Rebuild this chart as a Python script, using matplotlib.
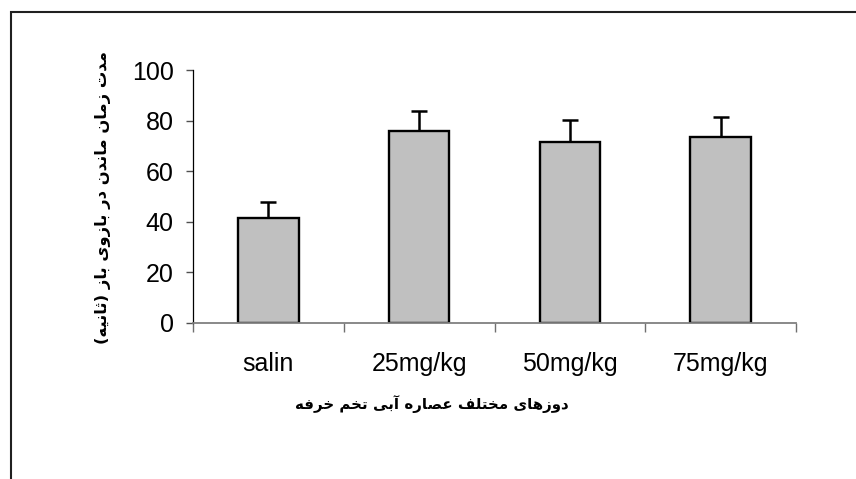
import numpy as np
import matplotlib
matplotlib.use('Agg')
import matplotlib.pyplot as plt
from matplotlib.patches import Rectangle

groups = ['salin', '25mg/kg', '50mg/kg', '75mg/kg']
means = [41.4, 76.0, 71.4, 73.4]
errors = [6.3, 7.7, 8.7, 8.1]
y_ticks = [0, 20, 40, 60, 80, 100]
y_label = 'مدت زمان ماندن در بازوی باز (ثانیه)'
x_label = 'دوزهای مختلف عصاره آبی تخم خرفه'

# minimal Arabic shaping: (isolated, final, initial, medial) presentation forms
FORMS = {
    'ا': (0xFE8D, 0xFE8E, None, None), 'آ': (0xFE81, 0xFE82, None, None),
    'ب': (0xFE8F, 0xFE90, 0xFE91, 0xFE92), 'ت': (0xFE95, 0xFE96, 0xFE97, 0xFE98),
    'ث': (0xFE99, 0xFE9A, 0xFE9B, 0xFE9C), 'خ': (0xFEA5, 0xFEA6, 0xFEA7, 0xFEA8),
    'د': (0xFEA9, 0xFEAA, None, None), 'ر': (0xFEAD, 0xFEAE, None, None),
    'ز': (0xFEAF, 0xFEB0, None, None), 'ص': (0xFEB9, 0xFEBA, 0xFEBB, 0xFEBC),
    'ع': (0xFEC9, 0xFECA, 0xFECB, 0xFECC), 'ف': (0xFED1, 0xFED2, 0xFED3, 0xFED4),
    'ل': (0xFEDD, 0xFEDE, 0xFEDF, 0xFEE0), 'م': (0xFEE1, 0xFEE2, 0xFEE3, 0xFEE4),
    'ن': (0xFEE5, 0xFEE6, 0xFEE7, 0xFEE8), 'ه': (0xFEE9, 0xFEEA, 0xFEEB, 0xFEEC),
    'و': (0xFEED, 0xFEEE, None, None), 'ی': (0xFBFC, 0xFBFD, 0xFBFE, 0xFBFF),
}

def shape(text):
    out = []
    for i, ch in enumerate(text):
        if ch not in FORMS:
            out.append(ch)
            continue
        f = FORMS[ch]
        prev = text[i - 1] if i > 0 else ''
        nxt = text[i + 1] if i + 1 < len(text) else ''
        jp = prev in FORMS and FORMS[prev][2] is not None
        jn = f[2] is not None and nxt in FORMS
        code = f[3] if (jp and jn) else f[1] if jp else f[2] if jn else f[0]
        out.append(chr(code))
    return ''.join(out)[::-1].translate(str.maketrans('()', ')('))

W, H = 856, 479
fig = plt.figure(figsize=(W / 100, H / 100), dpi=100)
ax = fig.add_axes([193 / W, 1 - 323 / H, (796 - 193) / W, (323 - 70) / H])

x = np.arange(len(groups))
ax.bar(x, means, width=0.4, color='#c0c0c0', edgecolor='black', linewidth=1.7, zorder=2)
ax.errorbar(x, means, yerr=[np.zeros(len(errors)), errors], fmt='none',
            ecolor='black', elinewidth=1.8, capsize=5.5, capthick=1.8, zorder=1)

ax.set_xlim(-0.5, len(groups) - 0.5)
ax.set_ylim(0, 100)
ax.set_yticks(y_ticks)
ax.set_xticks(x)
ax.set_xticklabels(groups, fontfamily='Liberation Sans', fontsize=18)
ax.set_xticks(np.arange(len(groups) + 1) - 0.5, minor=True)
ax.tick_params(axis='x', which='major', length=0, pad=21)
ax.tick_params(axis='x', which='minor', length=6.5, width=1, color='#707070', direction='out')
ax.tick_params(axis='y', length=5, width=1, color='#505050', pad=9)
for t in ax.get_yticklabels():
    t.set_fontfamily('Liberation Sans')
    t.set_fontsize(18)

for s in ['top', 'right']:
    ax.spines[s].set_visible(False)
ax.spines['bottom'].set_color('#808080')
ax.spines['bottom'].set_linewidth(1.3)
ax.spines['left'].set_color('black')
ax.spines['left'].set_linewidth(0.9)

fig.text(103 / W, 1 - 197 / H, shape(y_label), rotation=90, ha='center', va='center',
         fontsize=11.8, fontweight='bold', family=['DejaVu Sans'])
fig.text(432 / W, 1 - 404 / H, shape(x_label), ha='center', va='center',
         fontsize=10.8, fontweight='bold', family=['DejaVu Sans'])

fig.patches.append(Rectangle((11 / W, -0.1), 1.2, 1.1 - 12 / H, transform=fig.transFigure,
                             fill=False, edgecolor='#202020', linewidth=1.5))

fig.savefig('out.png', dpi=100)
